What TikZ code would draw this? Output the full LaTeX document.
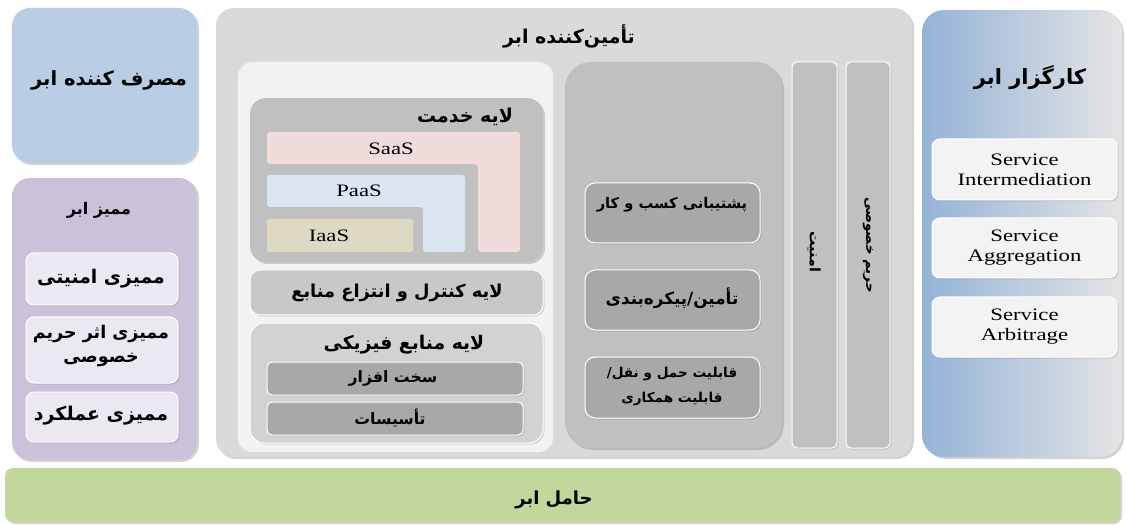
\documentclass[tikz,border=0pt]{standalone}
\usepackage{fontspec}
\usetikzlibrary{shadows}
\TeXXeTstate=1
\newfontfamily\fa[Script=Arabic]{DejaVu Sans}
\newfontfamily\en[FakeStretch=1.3]{Liberation Serif}
\newcommand{\fr}[1]{\beginR #1\endR}
\definecolor{consumerc}{HTML}{B9CDE5}
\definecolor{auditorc}{HTML}{CCC1DA}
\definecolor{audsubc}{HTML}{ECE8F1}
\definecolor{providerc}{HTML}{DADADA}
\definecolor{panelc}{HTML}{F2F2F2}
\definecolor{layerc}{HTML}{C0C0C0}
\definecolor{ctrlc}{HTML}{C8C8C8}
\definecolor{physc}{HTML}{D2D2D2}
\definecolor{darksubc}{HTML}{A8A8A8}
\definecolor{saasc}{HTML}{F2DCDB}
\definecolor{paasc}{HTML}{DCE6F2}
\definecolor{iaasc}{HTML}{DDD9C3}
\definecolor{brokerl}{HTML}{95B3D7}
\definecolor{brokerr}{HTML}{E4E4E4}
\definecolor{brsubc}{HTML}{F3F3F3}
\definecolor{carrierc}{HTML}{C3D69B}
\tikzset{
  bigbox/.style={rounded corners=18pt, anchor=north west, inner sep=0, outer sep=0,
    drop shadow={shadow xshift=2pt, shadow yshift=-2pt, opacity=0.35}},
  subbox/.style={rounded corners=8pt, anchor=north west, inner sep=0, outer sep=0, draw=white, line width=1pt,
    drop shadow={shadow xshift=1.5pt, shadow yshift=-1.5pt, opacity=0.25}},
  fatxt/.style={font=\fa\bfseries\fontsize{#1}{24}\selectfont, align=center, inner sep=0},
  fatxt/.default=18,
  entxt/.style={font=\en\fontsize{17.5}{20}\selectfont, align=center, inner sep=0},
}
\begin{document}
\begin{tikzpicture}[x=1pt, y=-1pt]
\useasboundingbox (0,0) rectangle (1126,526);
\fill[white] (0,0) rectangle (1126,526);

% consumer
\node[bigbox, fill=consumerc, minimum width=185pt, minimum height=155pt] (consumer) at (12,8) {};
\node[fatxt=19.5] (consumerT) at (109,80) {\fr{مصرف کننده ابر}};

% auditor
\node[bigbox, fill=auditorc, minimum width=185pt, minimum height=282pt] (auditor) at (12,178) {};
\node[fatxt=16] (auditorT) at (99,210) {\fr{ممیز ابر}};
\node[subbox, fill=audsubc, minimum width=152pt, minimum height=52pt] (aud1) at (26,253) {};
\node[fatxt=18.8] at (101,279) (aud1T) {\fr{ممیزی امنیتی}};
\node[subbox, fill=audsubc, minimum width=152pt, minimum height=66pt] (aud2) at (26,317) {};
\node[fatxt=17.5] at (101,346) (aud2T) {\fr{ممیزی اثر حریم}\\\fr{خصوصی}};
\node[subbox, fill=audsubc, minimum width=152pt, minimum height=50pt] (aud3) at (26,392) {};
\node[fatxt=19] at (101,416) (aud3T) {\fr{ممیزی عملکرد}};

% provider
\node[bigbox, fill=providerc, minimum width=696pt, minimum height=449pt] (provider) at (216,8) {};
\node[fatxt=19] (providerT) at (569,36) {\fr{تأمین‌کننده ابر}};
\node[anchor=north west, inner sep=0, outer sep=0, rounded corners=14pt, fill=panelc, minimum width=315pt, minimum height=390pt] (panel) at (238,62) {};

% service layer
\node[bigbox, rounded corners=16pt, fill=layerc, minimum width=293pt, minimum height=164pt] (service) at (250,98) {};
\node[fatxt=19] (serviceT) at (465,117) {\fr{لایه خدمت}};
\fill[saasc, rounded corners=3pt] (267,132) -- (520,132) -- (520,252) -- (478,252) -- (478,164) -- (267,164) -- cycle;
\fill[paasc, rounded corners=3pt] (267,175) -- (465,175) -- (465,252) -- (423,252) -- (423,207) -- (267,207) -- cycle;
\fill[iaasc, rounded corners=3pt] (267,219) rectangle (413,252);
\node[entxt] (saasT) at (391,149) {SaaS};
\node[entxt] (paasT) at (359,191) {PaaS};
\node[entxt] (iaasT) at (329,236) {IaaS};

% control layer
\node[subbox, rounded corners=10pt, fill=ctrlc, minimum width=293pt, minimum height=45pt] (control) at (250,270) {};
\node[fatxt=17.8] at (397,293) (controlT) {\fr{لایه کنترل و انتزاع منابع}};

% physical layer
\node[subbox, rounded corners=14pt, fill=physc, minimum width=293pt, minimum height=120pt] (physical) at (250,323) {};
\node[fatxt=18.8] (physicalT) at (404,345) {\fr{لایه منابع فیزیکی}};
\node[subbox, rounded corners=5pt, fill=darksubc, minimum width=256pt, minimum height=33pt] (hw) at (267,362) {};
\node[fatxt=15.7] at (393,378) (hwT) {\fr{سخت افزار}};
\node[subbox, rounded corners=5pt, fill=darksubc, minimum width=256pt, minimum height=33pt] (fac) at (267,402) {};
\node[fatxt=15.7] at (390,418) (facT) {\fr{تأسیسات}};

% management
\node[bigbox, rounded corners=26pt, fill=layerc, minimum width=217pt, minimum height=386pt] (mgmt) at (565,62) {};
\node[subbox, rounded corners=10pt, fill=darksubc, minimum width=175pt, minimum height=60pt] (m1) at (585,183) {};
\node[fatxt=14.7] at (672,205) (m1T) {\fr{پشتیبانی کسب و کار}};
\node[subbox, rounded corners=10pt, fill=darksubc, minimum width=175pt, minimum height=60pt] (m2) at (585,270) {};
\node[fatxt=16.8] at (672,298) (m2T) {\fr{تأمین/پیکره‌بندی}};
\node[subbox, rounded corners=10pt, fill=darksubc, minimum width=175pt, minimum height=61pt] (m3) at (585,357) {};
\node[fatxt=13.6, font=\fa\bfseries\fontsize{13.6}{25}\selectfont] at (672,386) (m3T) {\fr{قابلیت حمل و نقل/}\\\fr{قابلیت همکاری}};

% security / privacy
\node[subbox, rounded corners=5pt, fill=layerc, minimum width=45pt, minimum height=386pt] (security) at (792,62) {};
\node[fatxt=14.3, rotate=-90] at (814,252) (securityT) {\fr{امنیت}};
\node[subbox, rounded corners=5pt, fill=layerc, minimum width=44pt, minimum height=386pt] (privacy) at (846,62) {};
\node[fatxt=13.4, rotate=-90] at (868,245) (privacyT) {\fr{حریم خصوصی}};

% broker
\node[bigbox, rounded corners=22pt, left color=brokerl, right color=brokerr, minimum width=200pt, minimum height=447pt] (broker) at (922,10) {};
\node[fatxt=21] (brokerT) at (1030,78) {\fr{کارگزار ابر}};
\node[subbox, fill=brsubc, minimum width=185pt, minimum height=61pt] (b1) at (932,139) {};
\node[entxt] at (b1.center) (b1T) {Service\\Intermediation};
\node[subbox, fill=brsubc, minimum width=185pt, minimum height=60pt] (b2) at (932,218) {};
\node[entxt] at (b2.center) (b2T) {Service\\Aggregation};
\node[subbox, fill=brsubc, minimum width=185pt, minimum height=60pt] (b3) at (932,297) {};
\node[entxt] at (b3.center) (b3T) {Service\\Arbitrage};

% carrier
\node[bigbox, rounded corners=8pt, fill=carrierc, minimum width=1115pt, minimum height=54pt] (carrier) at (5,468) {};
\node[fatxt=18] at (554,500) (carrierT) {\fr{حامل ابر}};
\end{tikzpicture}
\end{document}
